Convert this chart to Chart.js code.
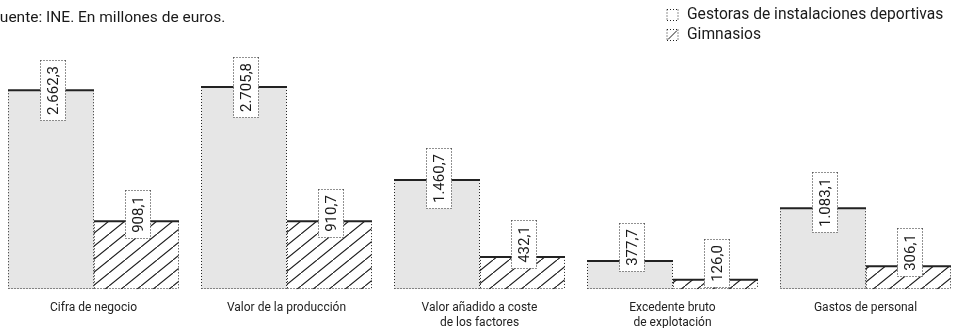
<!DOCTYPE html>
<html>
<head>
<meta charset="utf-8">
<script src="https://cdn.jsdelivr.net/npm/chart.js@4/dist/chart.umd.min.js"></script>
<style>
  html, body { margin: 0; padding: 0; background: #fff; width: 954px; height: 328px; overflow: hidden; }
  #wrap { position: absolute; left: -3px; top: 0; width: 965px; height: 342px; }
</style>
</head>
<body>
<div id="wrap"><canvas id="chart"></canvas></div>
<script>
// Indicadores económicos del sector deportivo (millones de euros)
const categories = [
  ['Cifra de negocio'],
  ['Valor de la producción'],
  ['Valor añadido a coste', 'de los factores'],
  ['Excedente bruto', 'de explotación'],
  ['Gastos de personal']
];
const seriesNames = ['Gestoras de instalaciones deportivas', 'Gimnasios'];
const gestoras = [2662.3, 2705.8, 1460.7, 377.7, 1083.1];
const gimnasios = [908.1, 910.7, 432.1, 126.0, 306.1];
const sourceNote = 'Fuente: INE. En millones de euros.';

const INK = '#1a1a1a';
const FRAME = '#222';
const FONT = 'Roboto, "Liberation Sans", sans-serif';

// Spanish number format: 2.662,3
function fmt(v) {
  const [i, d] = v.toFixed(1).split('.');
  return i.replace(/\B(?=(\d{3})+(?!\d))/g, '.') + ',' + d;
}

// Diagonal hatch used for the second series
function makeHatch(ctx) {
  const w = 16, h = 13;
  const c = document.createElement('canvas');
  c.width = w; c.height = h;
  const g = c.getContext('2d');
  g.fillStyle = '#fff';
  g.fillRect(0, 0, w, h);
  g.strokeStyle = INK;
  g.lineWidth = 1.1;
  g.beginPath();
  g.moveTo(-2, h + 2 * h / w);
  g.lineTo(w + 2, -2 * h / w);
  g.stroke();
  return ctx.createPattern(c, 'repeat');
}

function dotted(ctx, x1, y1, x2, y2) {
  ctx.save();
  ctx.setLineDash([1, 2]);
  ctx.lineWidth = 1;
  ctx.strokeStyle = FRAME;
  ctx.beginPath();
  ctx.moveTo(x1, y1);
  ctx.lineTo(x2, y2);
  ctx.stroke();
  ctx.restore();
}

// Frames for each bar: dotted sides and bottom, solid top edge; then value tags
const barFrames = {
  id: 'barFrames',
  afterDatasetsDraw(chart) {
    const ctx = chart.ctx;
    const bars = [];
    chart.data.datasets.forEach((ds, di) => {
      chart.getDatasetMeta(di).data.forEach((el, i) => {
        const p = el.getProps(['x', 'y', 'base', 'width'], true);
        bars.push({ ...p, v: ds.data[i] });
      });
    });
    bars.forEach(b => {
      const l = Math.round(b.x - b.width / 2) + 0.5;
      const r = Math.round(b.x + b.width / 2) - 0.5;
      const t = b.y, bot = Math.round(b.base) - 0.5;
      dotted(ctx, l, t, l, bot);
      dotted(ctx, r, t, r, bot);
      dotted(ctx, l, bot, r, bot);
      ctx.save();
      ctx.strokeStyle = FRAME;
      ctx.lineWidth = 2;
      ctx.beginPath();
      ctx.moveTo(l - 0.5, t);
      ctx.lineTo(r + 0.5, t);
      ctx.stroke();
      ctx.restore();
    });
    ctx.save();
    ctx.font = '15px ' + FONT;
    bars.forEach(b => {
      const txt = fmt(b.v);
      const tw = ctx.measureText(txt).width;
      const bw = 25, bh = Math.round(tw + 11);
      const hgt = b.base - b.y;
      const lift = Math.max(0, 18 - 0.15 * hgt);
      const cx = b.x + 1.5, cy = b.y - lift;
      const x0 = Math.round(cx - bw / 2) + 0.5, y0 = Math.round(cy - bh / 2) + 0.5;
      ctx.fillStyle = '#fff';
      ctx.fillRect(x0, y0, bw, bh);
      dotted(ctx, x0, y0, x0 + bw, y0);
      dotted(ctx, x0, y0 + bh, x0 + bw, y0 + bh);
      dotted(ctx, x0, y0, x0, y0 + bh);
      dotted(ctx, x0 + bw, y0, x0 + bw, y0 + bh);
      ctx.save();
      ctx.translate(x0 + bw / 2, y0 + bh / 2);
      ctx.rotate(-Math.PI / 2);
      ctx.fillStyle = INK;
      ctx.textAlign = 'center';
      ctx.textBaseline = 'middle';
      ctx.fillText(txt, 0, 1);
      ctx.restore();
    });
    ctx.restore();
  },
  afterDraw(chart) {
    const ctx = chart.ctx;
    ctx.save();
    ctx.fillStyle = INK;
    ctx.textBaseline = 'middle';
    // source note, first letter runs off the left edge
    ctx.font = '15.5px ' + FONT;
    const fw = ctx.measureText('F').width;
    ctx.fillText(sourceNote, 3 - fw, 18);
    // legend
    ctx.font = '15.6px ' + FONT;
    const lx = 670, ly = [9.5, 29.5];
    seriesNames.forEach((name, i) => {
      const y = ly[i];
      ctx.fillStyle = '#fff';
      ctx.fillRect(lx, y, 11, 11);
      dotted(ctx, lx, y, lx + 11, y);
      dotted(ctx, lx, y + 11, lx + 11, y + 11);
      dotted(ctx, lx, y, lx, y + 11);
      dotted(ctx, lx + 11, y, lx + 11, y + 11);
      if (i === 1) {
        ctx.save();
        ctx.strokeStyle = INK;
        ctx.lineWidth = 1;
        ctx.beginPath();
        ctx.moveTo(lx + 1, y + 10);
        ctx.lineTo(lx + 10, y + 1);
        ctx.stroke();
        ctx.restore();
      }
      ctx.fillStyle = INK;
      ctx.fillText(name, lx + 20, y + 6);
    });
    ctx.restore();
  }
};

const ctx = document.getElementById('chart').getContext('2d');
new Chart(ctx, {
  type: 'bar',
  data: {
    labels: categories,
    datasets: [
      { label: seriesNames[0], data: gestoras, backgroundColor: '#e6e6e6', borderWidth: 0 },
      { label: seriesNames[1], data: gimnasios, backgroundColor: makeHatch(ctx), borderWidth: 0 }
    ]
  },
  options: {
    responsive: true,
    maintainAspectRatio: false,
    animation: false,
    devicePixelRatio: 1,
    layout: { padding: { top: 65, left: 0, right: 0, bottom: 0 } },
    datasets: { bar: { categoryPercentage: 0.882, barPercentage: 1.0 } },
    plugins: { legend: { display: false }, tooltip: { enabled: false }, title: { display: false } },
    scales: {
      x: {
        grid: { display: false, drawTicks: false, tickLength: 0 },
        border: { display: false },
        ticks: {
          padding: 12,
          color: FRAME,
          font: { family: FONT, size: 12, lineHeight: 1.2 },
          maxRotation: 0,
          autoSkip: false
        }
      },
      y: { display: false, min: 0, max: 3000 }
    }
  },
  plugins: [barFrames]
});
</script>
</body>
</html>
